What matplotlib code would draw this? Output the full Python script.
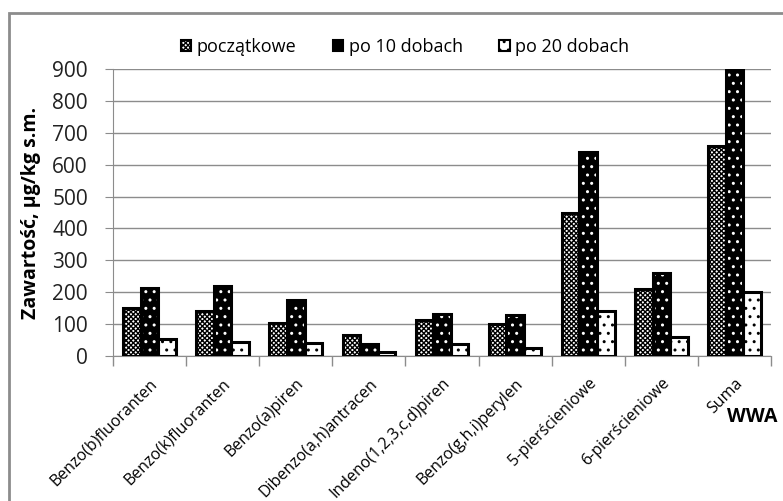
import numpy as np
import matplotlib.pyplot as plt
from matplotlib.patches import Rectangle

plt.rcParams['font.family'] = ['Open Sans', 'DejaVu Sans']
plt.rcParams['hatch.linewidth'] = 1.0

# Dane
kategorie = ['Benzo(b)fluoranten', 'Benzo(k)fluoranten', 'Benzo(a)piren',
             'Dibenzo(a,h)antracen', 'Indeno(1,2,3,c,d)piren', 'Benzo(g,h,i)perylen',
             '5-pierścieniowe', '6-pierścieniowe', 'Suma']
poczatkowe = [152, 141, 102, 65, 113, 99, 447, 209, 658]
po10 = [212, 219, 175, 37, 133, 128, 639, 259, 897]
po20 = [52, 44, 40, 12, 37, 24, 140, 59, 200]
yticks = [0, 100, 200, 300, 400, 500, 600, 700, 800, 900]

fig = plt.figure(figsize=(7.83, 5.01), dpi=100)
ax = fig.add_axes([113/783, 1-356/501, 658/783, 287/501])

# ramka wykresu
fig.patches.append(Rectangle((9/783, -0.1), 1.2, 1.1 - 13/501, transform=fig.transFigure,
                             fill=False, edgecolor='#8c8c8c', linewidth=2, zorder=0))

x = np.arange(len(kategorie))
w = 0.24
lw = 2.2

ax.bar(x - w, poczatkowe, w, facecolor='white', edgecolor='black', hatch='xxxxxxx',
       linewidth=lw, zorder=3)
# czarne słupki z białymi kropkami
ax.bar(x, po10, w, facecolor='black', edgecolor='white', hatch='..', linewidth=0, zorder=3)
ax.bar(x, po10, w, fill=False, edgecolor='black', linewidth=lw, zorder=4)
ax.bar(x + w, po20, w, facecolor='white', edgecolor='black', hatch='..',
       linewidth=lw, zorder=3)

ax.set_xlim(-0.5, len(kategorie) - 0.5)
ax.set_ylim(0, 900)
ax.set_yticks(yticks)
ax.tick_params(axis='y', length=6, color='#8c8c8c', labelsize=15, pad=12, labelcolor='#222222')
ax.yaxis.grid(True, color='#8c8c8c', linewidth=1)
ax.set_axisbelow(True)

ax.set_xticks(x)
ax.set_xticklabels(kategorie, rotation=45, ha='right', rotation_mode='anchor', fontsize=11.5)
ax.tick_params(axis='x', which='major', length=0, pad=14)
ax.set_xticks(np.arange(-0.5, len(kategorie)), minor=True)
ax.tick_params(axis='x', which='minor', length=7, color='#8c8c8c', width=1)

for s in ['top', 'right']:
    ax.spines[s].set_visible(False)
ax.spines['left'].set_color('#8c8c8c')
ax.spines['bottom'].set_color('#8c8c8c')

ax.set_ylabel('Zawartość, µg/kg s.m.', fontsize=14, fontweight='bold', labelpad=8)
fig.text(727/783, 1-417/501, 'WWA', fontsize=14, fontweight='bold', va='center')

# legenda
uchwyty = [Rectangle((0, 0), 1, 1, facecolor='white', edgecolor='black', hatch='xxxxxxx', linewidth=1.5),
           Rectangle((0, 0), 1, 1, facecolor='black', edgecolor='black', linewidth=1.5),
           Rectangle((0, 0), 1, 1, facecolor='white', edgecolor='black', hatch='..', linewidth=1.5)]
fig.legend(uchwyty, ['początkowe', 'po 10 dobach', 'po 20 dobach'], loc='center',
           bbox_to_anchor=(405/783, 1-47/501), ncol=3, frameon=False, fontsize=13,
           handlelength=0.6, handleheight=0.6, handletextpad=0.3, columnspacing=2.0)

fig.savefig('out.png', dpi=100)
